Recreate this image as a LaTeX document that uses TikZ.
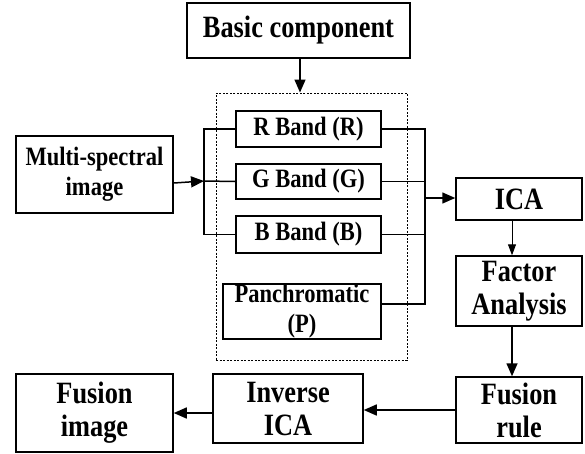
\documentclass[tikz,border=0pt]{standalone}
\usepackage{fontspec}
\setmainfont{Liberation Serif}[FakeStretch=0.85]
\usetikzlibrary{arrows.meta}
\begin{document}
\begin{tikzpicture}[x=1pt,y=-1pt,
  box/.style={draw=black,line width=1.5pt,rectangle,inner sep=0pt,align=center,
    font=\bfseries\fontsize{31}{33}\selectfont},
  sbox/.style={box,font=\bfseries\fontsize{26.5}{30}\selectfont},
  conn/.style={line width=1.5pt},
  arr/.style={line width=1.5pt,-{Triangle[length=13pt,width=11pt]}},
  tarr/.style={line width=1pt,-{Triangle[length=11pt,width=8pt]}}]
\fill[white] (0,0) rectangle (585,453);
\useasboundingbox (0,0) rectangle (585,453);
% dashed group
\node[draw=black,line width=1pt,dash pattern=on 2pt off 1.5pt,minimum width=191pt,minimum height=267pt,inner sep=0pt] (grp) at (311.5,226.5) {};
% nodes
\node[box,minimum width=223pt,minimum height=55pt] (basic) at (298.5,30.5) {Basic component};
\node[sbox,minimum width=145pt,minimum height=36pt] (R) at (308.5,129) {R Band (R)};
\node[sbox,minimum width=145pt,minimum height=35pt] (G) at (308.5,181.5) {G Band (G)};
\node[sbox,minimum width=145pt,minimum height=37pt] (B) at (308.5,234.5) {B Band (B)};
\node[sbox,minimum width=158pt,minimum height=55pt] (P) at (302,311.5) {Panchromatic\\(P)};
\node[sbox,minimum width=157pt,minimum height=77pt] (multi) at (94.5,174.5) {Multi-spectral\\image};
\node[box,minimum width=126pt,minimum height=42pt] (ica) at (519,199) {ICA};
\node[box,minimum width=126pt,minimum height=70pt] (fa) at (519,291) {Factor\\Analysis};
\node[box,minimum width=126pt,minimum height=66pt] (fr) at (519,410) {Fusion\\rule};
\node[box,minimum width=150pt,minimum height=69pt] (inv) at (288,408.5) {Inverse\\ICA};
\node[box,minimum width=157pt,minimum height=78pt] (fimg) at (94.5,413) {Fusion\\image};
% helper coordinates
\coordinate (lbus) at (204,181);
\coordinate (rbus) at (425,198);
\coordinate (vx) at (512,0);
\coordinate (py) at (0,304);
\coordinate (fy1) at (0,410);
\coordinate (fy2) at (0,413);
\coordinate (bx) at (300,0);
% connectors
\draw[arr] (basic.south -| bx) -- (grp.north -| bx);
\draw[arr] (multi.east |- 0,183) -- (lbus);
\draw[conn] (R.west) -| (lbus) |- (B.west);
\draw[conn] (lbus) -- (G.west);
\draw[conn] (R.east) -| (rbus) |- (P.east |- py);
\draw[conn] (G.east) -- (G.east -| rbus);
\draw[conn] (B.east) -- (B.east -| rbus);
\draw[arr] (rbus) -- (ica.west |- rbus);
\draw[tarr] (ica.south -| vx) -- (fa.north -| vx);
\draw[arr] (fa.south -| vx) -- (fr.north -| vx);
\draw[arr] (fr.west |- fy1) -- (inv.east |- fy1);
\draw[arr] (inv.west |- fy2) -- (fimg.east |- fy2);
\end{tikzpicture}
\end{document}
